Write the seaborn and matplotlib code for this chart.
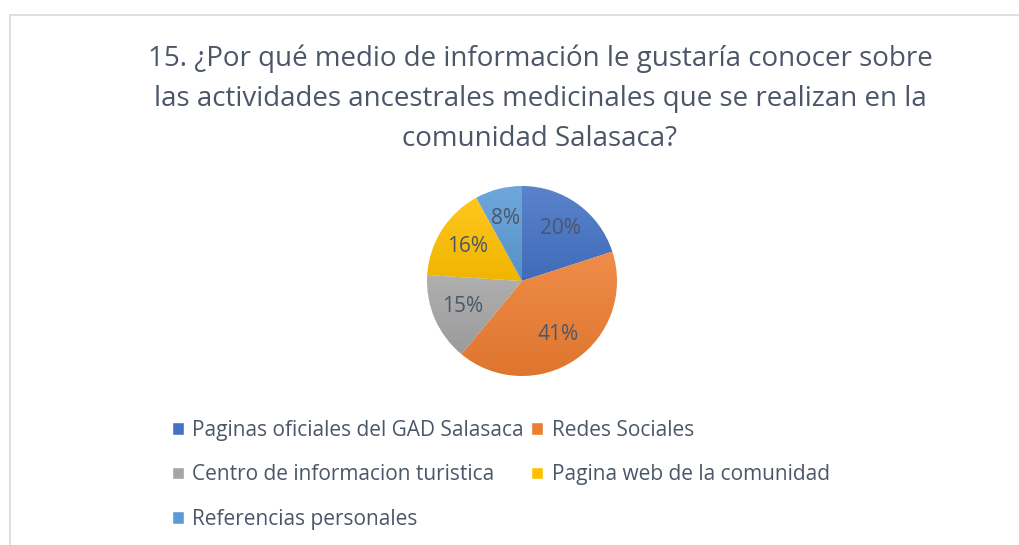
import numpy as np
import matplotlib.pyplot as plt
import seaborn as sns
from matplotlib.colors import to_rgb, LinearSegmentedColormap
from matplotlib.patches import Rectangle

# =========================
# Data
# =========================
title_lines = [
    "15. ¿Por qué medio de información le gustaría conocer sobre",
    "las actividades ancestrales medicinales que se realizan en la",
    "comunidad Salasaca?",
]
categories = [
    "Paginas oficiales del GAD Salasaca",
    "Redes Sociales",
    "Centro de informacion turistica",
    "Pagina web de la comunidad",
    "Referencias personales",
]
percent = [20, 41, 15, 16, 8]
colors = ["#4472C4", "#ED7D31", "#A5A5A5", "#FFC000", "#5B9BD5"]

# =========================
# Style
# =========================
sns.set_theme(style="white")
plt.rcParams["font.family"] = ["Open Sans", "DejaVu Sans"]
text_color = "#4B5769"


def shade(c, f):
    # f > 0 lightens towards white, f < 0 darkens towards black
    c = np.array(to_rgb(c))
    return tuple(c + (1 - c) * f) if f > 0 else tuple(c * (1 + f))


fig = plt.figure(figsize=(10.19, 5.45), dpi=100)

# chart border (light frame, cut off at right/bottom like the screenshot)
fig.patches.append(Rectangle((10 / 1019, -0.2), 1.5, 0.2 + 1 - 15 / 545,
                             transform=fig.transFigure, fill=False,
                             edgecolor="#D9D9D9", lw=1.2))

# title
for i, line in enumerate(title_lines):
    fig.text(540 / 1019, 1 - (59 + i * 40) / 545, line, ha="center", va="center",
             fontsize=20, color=text_color)

# =========================
# Pie
# =========================
r_px = 95
lim = 1.05
cx, cy = 522, 281
w = 2 * r_px * lim / 1019
h = 2 * r_px * lim / 545
ax = fig.add_axes([cx / 1019 - w / 2, 1 - cy / 545 - h / 2, w, h])
wedges, _, autotexts = ax.pie(percent, colors=colors, startangle=90, counterclock=False,
                              autopct="%1.0f%%", pctdistance=0.68,
                              wedgeprops=dict(edgecolor="white", linewidth=1.0),
                              textprops=dict(color=text_color, fontsize=15))
ax.set_aspect("equal")
ax.axis("off")

# subtle top-to-bottom gradient inside each slice (office style)
grad = np.linspace(0, 1, 256).reshape(-1, 1)
for wdg, col in zip(wedges, colors):
    x0, y0, x1, y1 = wdg.get_path().get_extents(wdg.get_patch_transform()).extents
    cmap = LinearSegmentedColormap.from_list("g", [shade(col, -0.06), shade(col, 0.12)])
    im = ax.imshow(grad, cmap=cmap, extent=(x0, x1, y0, y1), origin="lower",
                   aspect="auto", zorder=wdg.get_zorder() + 0.1)
    im.set_clip_path(wdg)
for t in autotexts:
    t.set_zorder(5)
ax.set_xlim(-lim, lim)
ax.set_ylim(-lim, lim)

# =========================
# Legend (row-major order like the original)
# =========================
order = [0, 2, 4, 1, 3]
fig.legend([wedges[i] for i in order], [categories[i] for i in order],
           loc="upper left", bbox_to_anchor=(172 / 1019, 1 - 420 / 545),
           ncol=2, frameon=False, fontsize=15, labelcolor=text_color,
           handlelength=0.58, handleheight=0.58, handletextpad=0.4,
           labelspacing=1.12, columnspacing=0.35, borderpad=0, borderaxespad=0)

plt.savefig("out.png", dpi=100)
